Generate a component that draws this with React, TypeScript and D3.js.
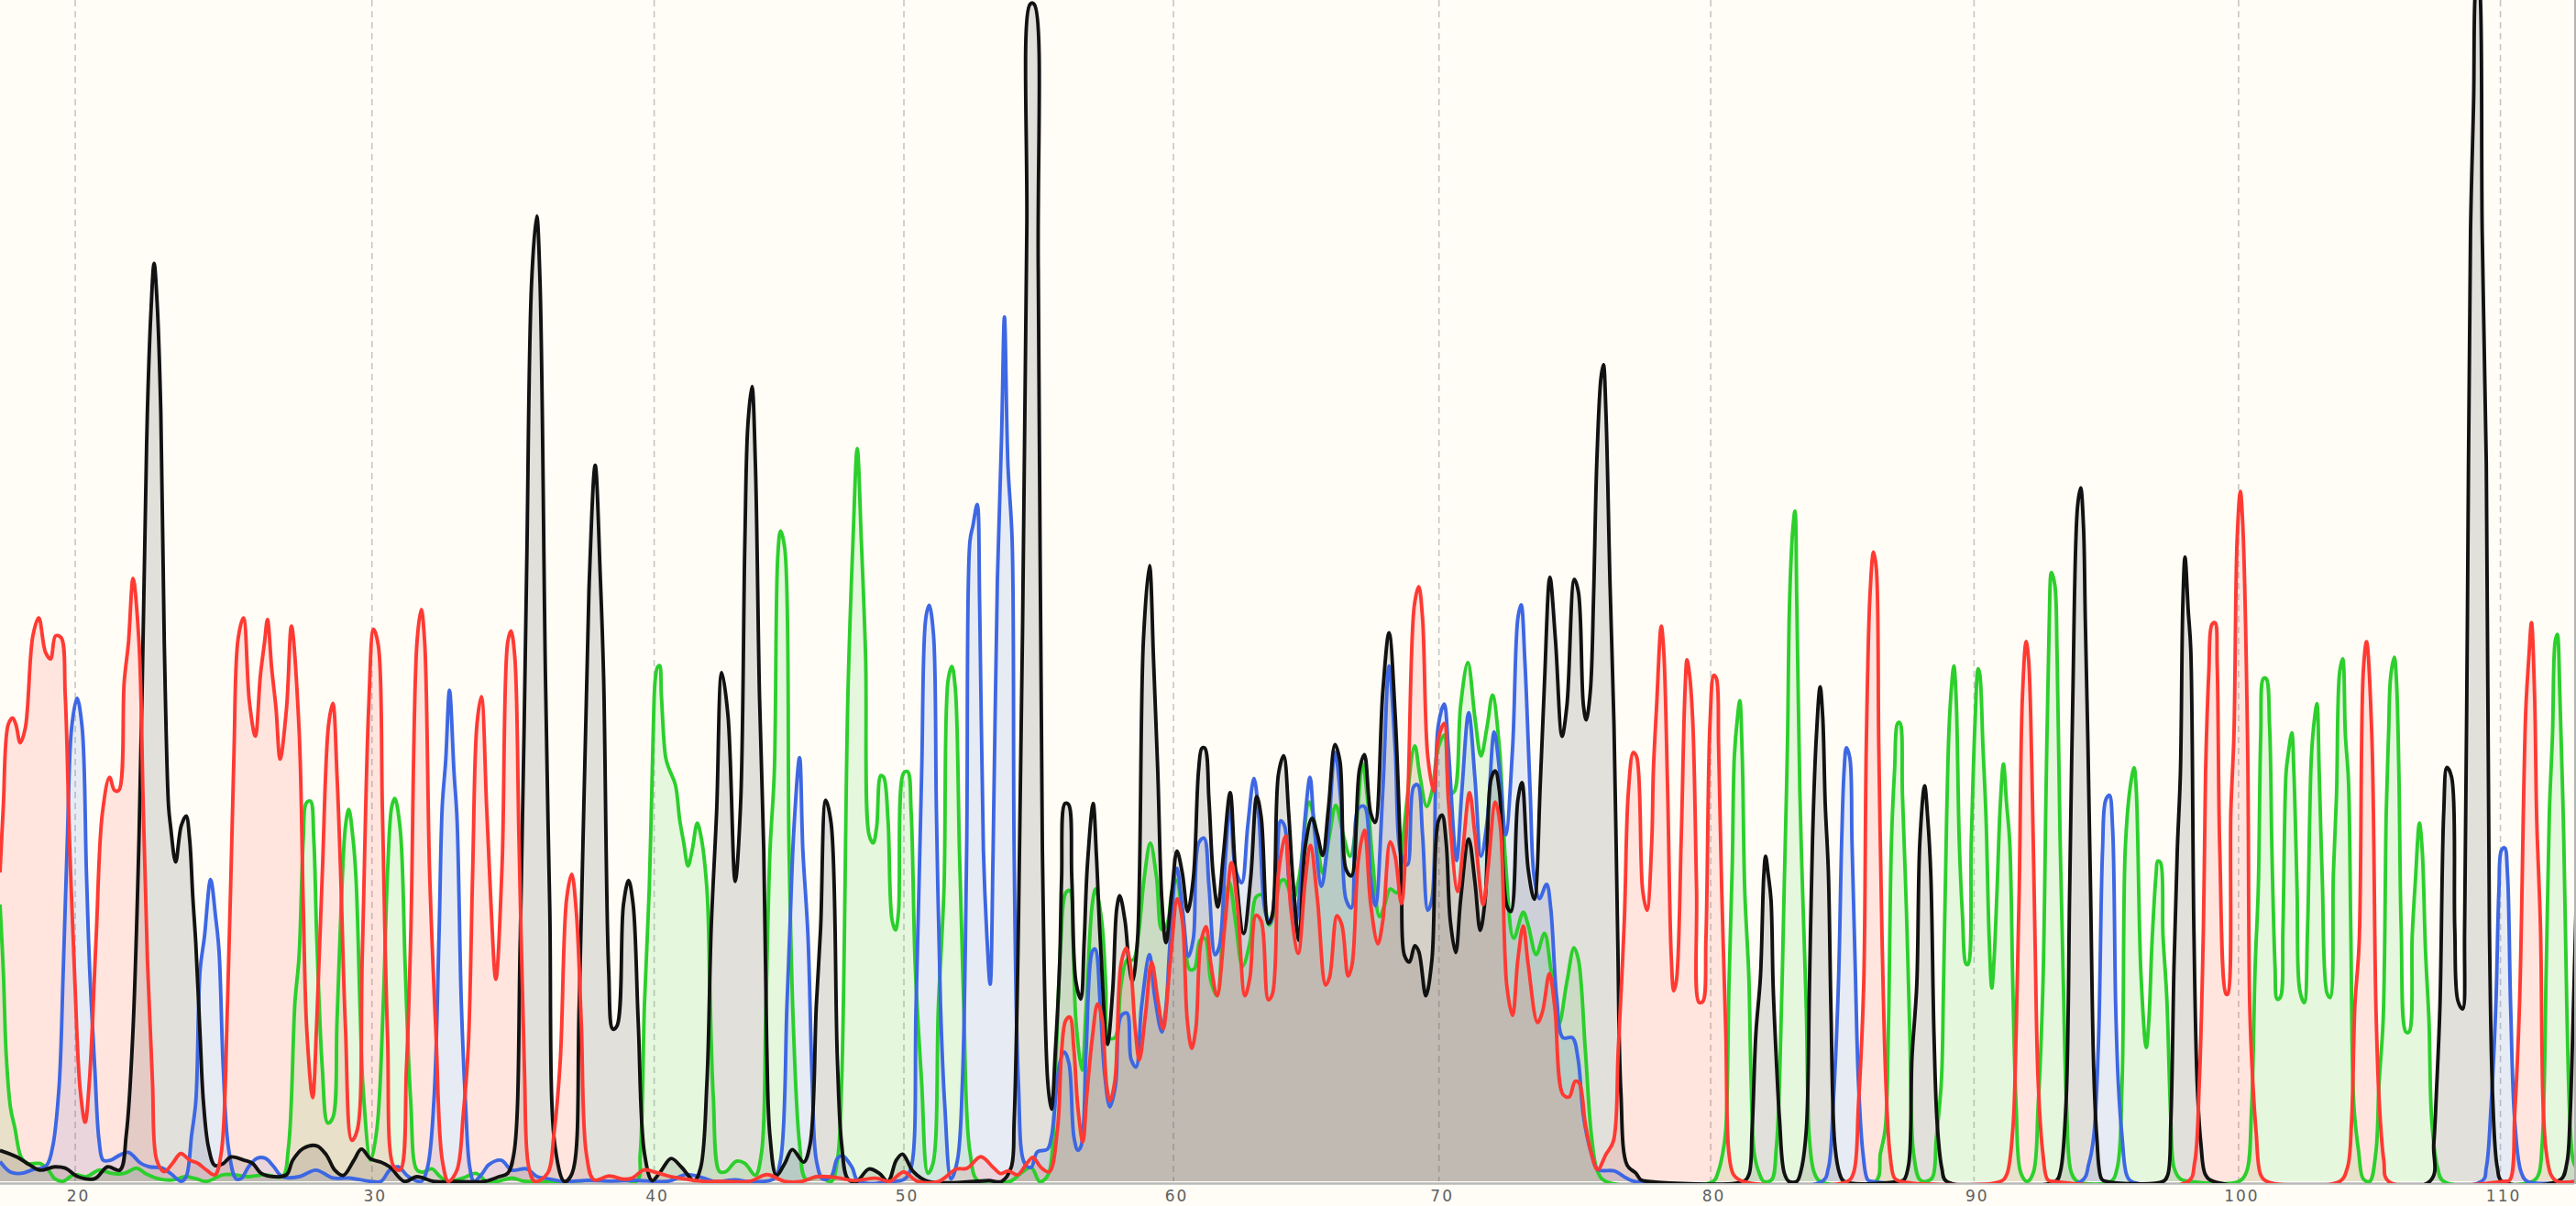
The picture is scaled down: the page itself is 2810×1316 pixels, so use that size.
import React from 'react';
import * as d3 from 'd3';

type Sample = [number, number];

// x axis of the traces is the scan position, y is the signal height
const scanMax = 1568;
const signalMax = 720;

const baseLabels = [20, 30, 40, 50, 60, 70, 80, 90, 100, 110];
const baseScans = [45.8, 226.4, 398.2, 550.2, 714.3, 875.9, 1041.3, 1201.6, 1362.6, 1522];

const greenTrace: Sample[] = [
  [0,169.5],[2,129.6],[3.8,77.7],[6.4,45.8],[9,33.8],[12.8,15.9],[16.7,11.9],[24.4,11.9],[29.5,7.9],[33.3,2.7],[38.5,1.1],[44.9,5.1],[52.6,3.9],[60.3,7.9],[68,5.9],[75.6,5.9],[83.3,9.1],[88.5,5.9],[96.2,2.7],[105.1,1.9],[112.8,3.9],[119.2,2.7],[125.6,1],[135.9,5.1],[142.3,5.1],[151.3,3.9],[161.5,5.1],[171.8,3.9],[175.6,21.9],[179.5,109.6],[182,137.6],[184.6,209.4],[186.4,231.3],[189,232.5],[191,209.4],[192.8,149.6],[196.2,69.8],[199.5,36.6],[202.6,39.8],[205.1,97.7],[207.7,169.5],[210.3,217.4],[212.3,227.4],[214.9,209.4],[216.7,185.5],[219.2,105.7],[221,57.8],[225.6,13.9],[229.5,33.8],[233.3,109.6],[235.9,189.4],[238.5,229.4],[240.3,234.1],[243.6,215.4],[246.7,129.6],[250,49.8],[253.8,7.9],[257.7,6.7],[262.8,8.7],[267.9,3.9],[273,1],[282,3.1],[289.7,5.9],[296.2,1.1],[302.6,1],[311.5,3.1],[319.2,1.1],[330.8,1],[387.2,1],[389.7,17.9],[392.3,109.6],[395.2,179],[397.5,270],[398.8,306],[400.2,314],[401.5,315],
  [402.6,296.5],[405.2,259],[407.3,252],[411.1,242.4],[413.7,221.3],[416.2,207],[418.8,193],[421.3,202.5],[424.4,219],[426.5,212],[430.3,179],[432.1,117.8],[434.2,52],[438,7],[441.8,7],[448.2,13.3],[453.4,12],[459.8,4.8],[463.6,19],[466.2,108],[468.7,202.5],[471.3,249.5],[473.4,381],[475.1,396.8],[477.7,386],[480.3,202.5],[482.8,99],[486.7,23.7],[490.5,2.5],[498.2,4],[505.9,1],[509.7,14],[512.3,61.3],[516.1,296.5],[519.2,390.7],[521.8,447],[524.3,390.7],[526.9,320],[529,211.9],[531.5,207],[533.6,216.6],[536.1,248],[537.9,247],[540.5,221.3],[543,160],[545.1,154],[546.9,164.8],[550,249.5],[552.5,250.4],[554.6,226],[557.1,132],[561,61.3],[564.8,6],[567.9,12],[571.2,108],[574.6,179],[577.1,306],[579.4,314.4],[581.5,301],[584,202.5],[586.6,108],[590.4,19],[595.6,1],[614.8,1],[621.2,5.8],[627.6,9.5],[632.7,1],[635,1.5],[638.7,6.9],
  [642.4,67.4],[645.7,146.4],[648.7,176.6],[651.2,178],[653.2,146.4],[654.9,99],[658.6,68.7],[661.1,107],[664.9,170],[666.9,179],[670.6,159.5],[673.1,120],[674.8,88.5],[678.6,88.5],[682.3,120],[686,135.8],[689.8,135.8],[693,151.6],[696.5,185.8],[700.2,206.9],[704,185.8],[707.2,154.2],[710.5,158],[713.4,177.9],[716,184.5],[719.7,164.8],[724.2,130],[727.1,130.6],[730.4,147.7],[733.4,149],[737.1,122.7],[740.8,114],[744.6,159.5],[748.3,183],[752,159.5],[756.3,131.9],[760.8,146.4],[764.5,174],[768.2,175.3],[772.5,156.9],[775.7,164.8],[779.5,183.7],[781.9,184.5],[787,172.7],[790.7,185.8],[796.9,231.9],[800.6,217.4],[805.1,188.5],[809.3,212],[813.1,230],[817.6,212],[821.8,199],[825.5,217.4],[829.3,255.5],[832.5,233],[835.5,196.3],[839.7,162.1],[843,170],[846.2,179],[850.4,176.6],[854.2,212],[861.2,266.1],[864.1,249],[868.4,229.2],[871.6,238.4],[875.4,264.7],[879.1,272.6],[882.8,237.1],[885.3,238.4],[889.1,291],[893.5,316.8],[897.8,283],[901.5,260],[905.2,278],[908.5,297],[912.7,264.7],[916.5,193.7],[921.4,149],[927.2,164.8],[930.2,156.9],[935.1,139],[940.1,152],[943.9,130.6],[948.8,96.4],[953.8,122.7],[958.1,143.2],[960.8,135.8],[965,80.6],[968.8,28],[972.5,6.9],[977.5,1],
  [1042.8,1],[1045.7,6.4],[1048.6,18],[1050.5,32.6],[1052.4,120],[1054.4,193],[1055.7,260],[1057.6,283.5],[1059,293.7],[1060.5,260],[1062,178.5],[1064.5,126],[1065.9,62],[1067.8,18],[1070.7,6.4],[1073.6,1],[1078.4,2],[1081.2,21],[1083.2,62],[1086,178.5],[1088,266],[1089.3,353.5],[1091.2,397],[1092.6,409],[1093.7,353.5],[1095.6,236.8],[1097.2,178.5],[1099.5,105.5],[1101.4,26.8],[1104.3,6.4],[1108.1,1],[1141.7,1],[1144.6,18],[1147.5,32.6],[1149.4,91],[1151.3,207.6],[1153.2,251],[1155.2,280],[1156.5,280],[1158,236.8],[1160.5,163.9],[1162.5,91],[1164.8,18],[1168.6,2],[1172.4,1],[1176.3,3.5],[1178.6,26.8],[1181.7,62],[1183,120],[1184.9,222],[1186.3,274.7],[1187.8,301],[1189.3,314.7],[1190.7,295],[1192.6,207.6],[1194.5,163.9],[1196.8,133.3],[1198,133.3],[1199.9,207.6],[1202.2,280.6],[1204.1,313],[1205.1,309.7],[1207,266],[1208.9,222],[1210.8,149],[1212.4,118.7],[1213.7,134.7],[1215.6,178.5],[1217.6,231],[1219.5,255],[1221.4,231],[1223.3,207.6],[1225.2,120],[1227.2,47],[1230,6.4],[1233.9,1],[1237.7,6.4],[1240.6,47],[1243.5,120],[1245.4,236.8],[1247.3,339],[1248.7,371.6],[1250.8,363.7],[1252.1,324],[1254,207.6],[1256,120],[1257.9,47],[1260.8,6.4],[1264.6,1],
  [1284.9,1],[1288.8,9.5],[1291.7,61],[1293.6,202.5],[1296.5,240],[1299,252.8],[1300.3,240],[1303.2,127],[1306.4,82.5],[1308,99],[1309.9,146],[1312.4,188],[1313.4,196],[1315.1,195],[1316.6,150.7],[1318.9,113],[1321.4,38],[1323.3,9.5],[1327.2,2.5],[1332.9,1],[1362.7,1],[1367.5,7],[1370.4,42.5],[1372.7,132],[1374.6,179],[1376.1,273],[1377.7,307],[1379.4,307],[1381.5,277.7],[1382.9,202.5],[1384.8,132],[1386.1,112],[1388,113],[1389.6,155],[1391.5,249.5],[1392.8,261],[1395,274],[1396.3,249.5],[1398.2,179],[1399.8,117.8],[1402.6,109.8],[1404.6,155],[1406.9,259],[1408.8,282.4],[1410.3,291.8],[1411.7,249.5],[1413.6,183.6],[1416.5,115.4],[1418.4,113],[1420.3,188],[1422.2,235.4],[1424.1,310.7],[1426,319],[1427.6,273],[1429.5,244.8],[1430.9,155],[1432.8,47],[1435.7,19],[1438.5,2.5],[1442.4,1],[1446.2,19],[1448.1,61],[1450.6,99],[1452.5,226],[1453.9,273],[1455.2,308.3],[1457.4,320],[1458.7,306],[1460.2,249.5],[1461.6,155],[1464.5,92],[1466.4,92],[1468.3,150.7],[1470.2,183.6],[1472.7,219],[1474.4,202.5],[1476.4,141],[1478.5,99],[1480.2,38],[1483.7,9.5],[1487.5,1],[1541.3,1],[1545.1,5],[1547.4,23.7],[1549.9,132],[1551.8,226],[1553.7,273],[1555.3,329.5],[1556.6,334],[1558.2,296.5],[1560.5,212],[1562.4,108],[1564.3,38],[1566.2,14],[1568,9.5],
];

const blueTrace: Sample[] = [
  [0,13.1],[6.4,6.7],[12.8,5.9],[19.2,7.9],[28.2,10.7],[32,21.9],[35.9,57.8],[38.5,129.6],[41,209.4],[43.6,277.2],[46.9,295],[50,277.2],[52.6,189.4],[54.6,129.6],[57.7,69.8],[60.3,25.9],[62.8,13.9],[67.2,13.9],[73,17.1],[78.2,18.7],[85.9,11.9],[91,9.9],[98.7,9.1],[103.8,5.9],[110.3,1.1],[113.3,3.9],[116.7,29.8],[119.2,49.8],[121.8,129.6],[124.4,149.6],[128.2,184.7],[131.3,161.5],[133.3,141.6],[135.9,69.8],[139,21.9],[143.6,2.7],[146.7,2.7],[151.3,9.9],[156.4,15.1],[161.5,15.1],[166.7,9.9],[171.8,3.9],[182,3.9],[192.3,7.9],[202.6,3.1],[212.8,3.1],[225.6,1],[232,1.1],[237.2,7.9],[242.3,9.9],[248.7,3.9],[256.4,1],[260.3,9.9],[264.1,49.8],[267.2,149.6],[269.2,229.4],[271.3,257.3],[273.6,300],[276.4,249.3],[278.2,221.4],[280.8,109.6],[283.3,49.8],[285.9,9.9],[288.5,1.1],[293.6,5.9],[297.4,11.1],[305.1,13.9],[311.5,7.9],[320.5,8.7],[326.9,3.9],[333.3,2.7],[343.6,1],
  [358,1.7],[372,1.2],[385.8,1.7],[407,1.2],[417.8,5.2],[428.5,3],[435,1],[447.7,2],[456,1],[471,2.6],[475.1,14],[479,108],[480.8,155],[483.3,216.6],[486.7,259],[488.7,202.5],[491.8,150.7],[494.4,61.3],[496.9,14],[500.8,2.5],[505.9,4],[509.7,15],[512.8,16.6],[518.7,9.5],[522.5,1],[544.3,1],[550.7,2.5],[554.6,9.5],[557.6,108],[561,249.5],[563.5,343.6],[565.6,351.6],[568.2,334],[570,226],[572.5,108],[575.1,47],[578.9,2.5],[582.8,14],[585.8,61.3],[588.4,202.5],[590.4,390.7],[592.2,400],[594.8,413],[596.3,353],[598.6,202.5],[600.7,150.7],[602.7,121],[604.5,202.5],[607.1,367],[609.7,456.5],[611.4,527],[613.5,437.7],[616.1,390.7],[617.3,202.5],[619.9,61.3],[623.7,12],[627.6,9.5],[631.4,19],[637.5,20.6],
  [640,28],[645,72.7],[647.9,79.8],[650.7,72.7],[653.7,28],[656.1,20],[658.1,22.7],[661.1,80.6],[664.9,141],[666.6,142.4],[669.8,107],[672.3,67.4],[675.6,46.4],[679,59.5],[682.3,101.6],[686,103.5],[688.5,75.3],[691.5,70.6],[694.8,107],[699.7,139],[702.7,114.8],[707.2,91.9],[709.7,107],[712.2,146.4],[716.4,191.6],[719.7,167.4],[723.4,138],[726.4,149],[729.6,206.9],[732.9,210],[735.9,180.6],[739.6,139],[742.1,143.7],[745.8,196.3],[748.8,231.9],[752,191],[755.8,182.7],[759.5,217.4],[763.3,246.3],[766.3,222.6],[770.2,164.8],[773.2,158.2],[777,191],[779.5,220.5],[781.9,217.4],[784.4,185.8],[788.2,155.6],[790.7,172.7],[794.4,222.6],[797.4,246.9],[799.9,217.4],[804.4,180.6],[808.1,206.9],[812.6,262.1],[816.1,233.2],[819.3,172.7],[822.6,167.4],[826.8,227.9],[830.5,229.2],[834.3,185.8],[837.2,168.7],[841.7,238.4],[845.5,314.7],[849.2,264.7],[853,199],[856.7,193.7],[860.4,241],[862.9,242.4],[865.9,212],[869.1,166],[871.6,172.7],[875.4,277.9],[879.1,291.6],[881.6,264.7],[886.6,196.3],[889.8,238.4],[894,286.3],[897.8,246.3],[901.5,199],[905.2,220],[909.5,274.5],[912.7,251.6],[916.5,212],[920.7,264.7],[923.9,343.7],[925.9,352],[928.2,317.4],[931.4,238.4],[933.9,185.8],[937.1,173.2],[941.4,181.9],[943.9,167.4],[947.6,112.2],[951.3,88.5],[957.1,88.5],[960.6,75.3],[963.8,41],[968.8,17.4],[972.5,8.2],[982.5,7.4],[990,3],[995,1],
  [1109.1,1],[1112.9,9],[1115.8,47],[1119,120],[1121,207.6],[1122.5,251],[1123.9,265],[1126,258.7],[1127.3,207.6],[1129.2,134.7],[1131.2,62],[1134,18],[1136.9,2],[1139.8,1],[1266.7,1],[1271.5,12],[1274.4,28],[1277.3,85],[1279.8,202.5],[1281.7,233],[1284,236],[1285.9,216.6],[1287.8,108],[1289.4,61],[1291.7,28],[1294.5,5],[1297.4,1],[1510.5,1],[1513.4,9.5],[1516.3,47],[1519.2,108],[1521.1,179],[1522.6,202.5],[1524.6,204],[1526.3,188],[1528.2,108],[1530.7,38],[1534.5,7],[1538.4,1],[1568,1],
];

const blackTrace: Sample[] = [
  [0,19.9],[10.3,15.9],[18,11.1],[24.4,7.9],[33.3,9.9],[39.7,9.1],[47.4,3.9],[57.7,2.7],[65.4,9.9],[73,7.9],[76.9,29.8],[80.8,89.7],[84.6,209.4],[88.5,408.9],[89.7,468.7],[91.8,528.6],[93.8,559.7],[95.6,536.6],[97.9,468.7],[100,329],[102.6,229.4],[103.8,217.4],[106.9,195.4],[110.3,217.4],[113.3,223.4],[115.4,209.4],[117.4,173.5],[119.2,145.6],[121.8,89.7],[123.8,49.8],[126.9,21.9],[130.8,10.7],[135.9,11.9],[140.5,15.9],[148.7,13.9],[153.8,11.9],[159,5.9],[166.7,3.9],[174.4,5.1],[178.2,13.9],[184.6,21.1],[192.8,22.7],[198.7,17.1],[203.8,7.9],[209,4.7],[215.4,13.9],[220,20.7],[225.6,14.7],[232,12.7],[237.2,9.9],[246.2,1],[253.8,3.9],[264,1],[276.9,1],[294.9,1],[303.8,3.9],[309,5.9],[312.8,17.9],[316.7,149.6],[320.5,369],[323.6,548.6],[326.7,588.5],[328.7,548.6],[332,309],[334.6,169.5],[337.9,21.9],[343.6,1],[348.2,5.9],[352.6,109.6],[358.5,361],[362.3,436.8],[365.4,369],[367.4,309],[370.5,129.6],[373,93.7],[375.6,95.7],[379.5,169.5],[382.6,184.2],[385.4,169.5],[388.5,97.7],[392.3,17.9],[397,1.5],[402.1,7],
  [408.5,15],[415,9.5],[422.6,1.5],[426.5,9.5],[430.3,61.3],[432.9,155],[436.2,226],[439.3,310.7],[443.1,284.8],[447.5,183.6],[450.8,230.7],[453.4,390.7],[455.2,461],[457.7,484.8],[459.8,437.7],[462.3,296.5],[464.9,202.5],[466.7,84.8],[468.7,28.4],[472.6,4.8],[477.7,12],[482.3,20.4],[489.2,12.8],[493.1,23.7],[496.9,108.4],[499.5,155],[502.6,233],[505.9,219],[509.7,75.4],[512.3,23.7],[516.1,2.5],[521.3,1],[528.9,8.6],[535.4,5.8],[540.5,1],[545.6,14],[549.4,17.6],[555.9,7],[564.8,1],[593,1],[602,1.5],[609.7,1],[615.5,9.5],[617.3,37.8],[619.9,155],[622.5,343.6],[625,578.9],[627.1,717.6],[629.4,717.6],[632,555],[634.5,202.5],[637.8,61.3],[640,45],
  [642.4,80.6],[645,133],[646.2,185.8],[648.2,231],[650.4,230.5],[652.4,185.8],[654.9,122.7],[657.9,112],[659.9,146.4],[661.9,193.7],[665.4,231],[667.4,199],[669.8,146.4],[674.1,84.5],[677.3,117.4],[679.8,167.4],[681.6,174.8],[684.8,159.5],[687.3,133],[689.3,122.7],[692.3,146.4],[696,330.5],[699.7,375.8],[702.2,317.4],[704.7,251.6],[707.2,172.7],[709.7,146.4],[713.4,177.9],[716.4,202.1],[719.7,188.5],[722.9,165.3],[726.4,185.8],[729.6,251.6],[731.6,264.7],[733.4,264.7],[735.9,233],[738.4,188.5],[741.3,168],[744.6,199],[748.8,237.6],[752,191],[757,152],[761.3,185.8],[765,235.3],[767.7,222.6],[772,158],[774.5,163.4],[778.2,249],[781.4,260],[784.4,225.3],[786.9,185.8],[790.7,147.7],[794.4,204.2],[798.6,222],[801.9,212],[805.1,199.5],[808.6,228],[812.6,266.9],[815.6,256.9],[819.3,191],[822.6,187],[827.5,251.6],[830.5,260.8],[834.3,225.3],[837,219.5],[841.7,299],[845.5,335],[849.2,285.8],[853,185.8],[854.9,138.5],[857.9,134.5],[861.2,144.5],[863.6,141],[867.9,114],[871.6,135.8],[875.4,220],[877.8,224],[880.3,207],[882.8,159.5],[886.1,140.3],[889.1,172.7],[894,209.5],[897.8,183],[901,153.7],[904,172.7],[907.7,246.3],[910.2,250.8],[912.7,238.4],[917.2,168.7],[919.7,165.3],[923.9,233],[926.4,243.7],[930.2,191],[933.9,172.7],[937.6,243.7],[940.1,304],[943.4,368.7],[946.8,330.5],[950.8,271.9],[953.8,291],[958.3,367.4],[960.8,359.5],[963.8,291],[965.5,281.9],[968,299],[970,356.8],[972,440],[974.5,490],[976,498],[977.5,470],[980,365],[982.4,280],[984.7,149],[986.6,56],[990.4,11],[995.8,6],[998.7,2],[1003.5,1],
  [1061,1],[1064.5,5],[1066.5,32.6],[1068.8,91],[1071.6,126],[1073.6,187],[1074.7,199],[1076.4,187],[1078,172.6],[1079.3,120],[1081.2,76],[1083.2,38.5],[1086,6.4],[1088.9,1],[1093.7,1],[1096.6,9],[1099.5,32.6],[1101.4,120],[1103.3,210.6],[1105.6,271.8],[1107.9,302],[1109.5,283.5],[1111,231],[1112.9,190],[1114.5,105.5],[1116.8,24],[1119.6,6.4],[1122.5,1],[1156.1,1],[1159,2],[1161.9,12],[1163.8,76],[1166.7,120],[1168.6,207.6],[1171.5,241.8],[1173.4,222],[1175.3,187],[1177.2,91],[1179.2,35.5],[1182,9],[1184.9,1],[1251.2,1],[1254,6.4],[1257.5,47],[1259.8,178.5],[1261.7,295],[1264.6,411.8],[1266.5,423],[1268.2,400],[1269.3,343.6],[1270.9,268],[1272.5,179],[1274.4,70.7],[1276.3,28],[1279.2,2.5],[1282,1],[1316.6,1],[1319.5,5],[1321.4,38],[1323.3,132],[1325.3,202.5],[1327.2,249.5],[1328.7,353],[1330,381],[1332,348],[1333.5,325],[1335.4,155],[1337.4,61],[1339.7,23.7],[1342.5,5],[1347.3,1],[1478.9,1],[1481.4,23.7],[1483.3,61],[1485.2,108],[1487.5,226],[1489.4,253],[1492.3,247],[1494.2,155],[1496.1,111],[1499,106],[1500.2,155],[1501.9,343.6],[1503.8,579],[1505.7,660],[1506.7,725],[1508.2,735],[1509.6,725],[1510.9,579],[1513.4,438],[1515.3,155],[1517.3,52],[1520.1,9.5],[1523,1],[1558.5,2],[1562.4,12],[1564.3,38],[1566.2,99],[1568,165],
];

const redTrace: Sample[] = [
  [0,189],[2,229],[5,279],[7.7,283],[9.7,279],[12.3,268],[15.4,277],[20,333],[23.6,344],[27.7,323],[30.8,319],[33.8,333],[37.2,332],[39.7,297],[42.3,209],[45.6,122],[48.7,58],[51.8,37],[54.4,62],[58.5,149],[62.3,225],[66.7,247],[69.7,239],[72.3,239],[75.6,305],[78.2,329],[81,368],[84.6,329],[87.2,229],[89.7,137],[92.8,62],[95.4,14],[100,7],[105,12],[110,18],[115.4,14],[120.5,12],[125.6,8],[130.8,5],[134.6,18],[138.5,110],[142.3,257],[144.9,331],[148.2,344],[151.8,293],[155.4,272],[158.5,309],[161,329],[162.8,343],[165.4,313],[168,289],[170.5,258],[174.4,289],[177.4,339],[182,277],[184.6,169],[186.7,94],[190.3,52],[192.8,98],[196.2,189],[200,279],[202.6,292],[205.1,249],[207.2,193],[210.3,94],[214.1,26],[217.4,32],[220.5,138],[224.4,289],[227.4,337],[230.3,327],[232.8,225],[235.9,90],[239.7,10],[243.6,8],[247.4,70],[250,150],[253.8,329],[256.4,349],[258.5,329],[261.5,189],[265.4,90],[269.2,14],[273,1],[278.2,8],[282,42],[285,82],[287.7,189],[290.3,279],[293,296],[296.2,229],[298.7,173],[301.8,124],[305.6,193],[309,329],[311,336],[313.3,321],[315.9,209],[319.2,70],[321.8,10],[325.6,1],[333.3,6],[337.2,30],[341,74],[344.9,173],[348,188],[350.8,165],[353.8,98],[356.9,18],[361.5,2],
  [370.8,4.3],[379.4,2.4],[384.7,3],[392,8],[398.6,6.7],[407,4.3],[417.8,2.4],[428.5,1],[441,1],[456,1],[467,5.2],[477.6,1],[488,1],[497,3.9],[509.6,3.3],[520,1.5],[533,3],[541.7,1.1],[550,6.7],[558.7,1],[571.6,1.1],[582,8.5],[588.6,9],[597,16],[604.6,9.5],[609,5.8],[613.8,7.4],[619.3,5],[625,12],[628.7,15.6],[633.7,9.5],[638.7,6.9],
  [643.7,33],[646.2,80.6],[648.7,99],[651.2,101],[653.7,81],[656.1,46],[659.1,25],[661.6,54],[664.9,88.5],[668.1,109],[670.6,101.6],[673.6,59.5],[675.6,50],[678.6,62],[682.3,133],[685.5,143],[688,133],[691,94],[693.5,75],[697.2,102],[701,134.5],[704.7,112],[708,94],[712.2,133],[716.7,173],[719.7,159.5],[722.7,99],[725.4,82],[727.9,94],[730.9,146],[734.1,156],[737.1,133],[740.8,114],[745.8,159.5],[749.6,195],[753.3,167.4],[757.8,114],[760.8,125],[764.5,163],[767.7,159.5],[772,111.6],[774.5,115],[778.2,188.5],[782.4,211.3],[785.7,167.4],[790.2,139.8],[794.4,183],[797.6,205.6],[801.9,172.7],[806.9,120.6],[809.3,125.3],[813.8,162.7],[816.8,157],[820.6,126],[823,133],[826.8,196.3],[830.5,214.8],[834.3,170],[838.7,145.6],[841.7,159.5],[846.2,207.7],[849.2,199],[853,170],[856.7,228],[860.9,351.6],[863.6,363],[865.9,343.7],[869.1,259.5],[872.9,238.4],[875.4,270],[879.1,279.7],[881.6,233],[887.3,177.4],[890.3,201.6],[894.5,237.6],[897.8,212],[902.8,169.5],[905.7,191],[910.2,231.9],[913.2,217.4],[917.2,120],[920.7,102],[923.9,136],[927.2,156.4],[930.2,133],[935.9,97.7],[938.9,104.3],[943.1,127.4],[946.4,107],[951.3,54],[955.1,52.4],[958.8,62],[961.3,60.8],[965,35.9],[968.8,17.4],[972.5,8.2],[977.5,17.4],[982,25.3],[985,80.6],[988.7,159.5],[991.2,238.4],[994.2,262],[996.2,259.5],[999.9,178],[1002.5,166],
  [1005.4,207.6],[1006.4,251],[1008.3,289],[1011.2,339],[1012.7,324],[1015,242.6],[1017.3,137.6],[1018.8,117],[1020.4,123],[1023.3,207.6],[1025.6,298],[1026.9,318.5],[1028.4,309.7],[1030.4,280.6],[1032.7,178.5],[1034.2,110],[1036.5,110.5],[1038.4,149],[1040.9,280.6],[1043.2,309],[1044.8,307],[1046.1,266],[1048,178.5],[1050.5,91],[1052.4,18],[1055.3,5],[1061,1],[1124.4,1],[1128.3,6.4],[1131.2,47],[1134.4,120],[1136,266],[1138.3,359],[1140.4,384],[1142.1,374],[1143.6,266],[1145.6,149],[1147.9,62],[1150.4,18],[1153.2,3],[1157,1],[1217.6,1],[1221.4,5],[1225.2,33],[1227.2,91],[1229.1,178.5],[1231,295],[1233.3,329.6],[1234.8,318.5],[1236.8,251],[1238.7,149],[1240.6,62],[1243.5,18],[1246.4,2],[1250.2,1],
  [1332,1],[1335.8,12],[1338.7,61],[1341.2,155],[1342.5,249],[1344.5,311],[1346.4,340],[1348.3,341],[1349.6,315],[1351.2,202],[1355,115],[1356,115],[1357.9,226],[1359.8,273],[1361.7,391],[1363.7,421],[1365.2,400],[1368.1,268],[1369.4,108],[1371.3,61],[1373.3,31],[1376.1,5],[1380,1],[1424.1,1],[1428.9,9.5],[1431.4,38],[1433.4,108],[1436,146],[1438.5,311],[1440.5,329.5],[1443.7,273],[1446.2,108],[1448.1,52],[1451,14],[1453.9,1],[1524,1],[1527.8,2],[1530.7,42],[1533.6,108],[1537.4,287],[1539.3,320],[1540.9,341],[1542.8,296.5],[1544.1,221],[1546.4,155],[1548,47],[1549.9,19],[1552.8,5],[1556.6,1],[1568,1],
];

// paint order: last one ends up on top
const traces = [
  { name: 'G', color: '#2ccf2c', values: greenTrace },
  { name: 'C', color: '#3d67e3', values: blueTrace },
  { name: 'A', color: '#121212', values: blackTrace },
  { name: 'T', color: '#ff3a33', values: redTrace },
];

export default function App() {
  const width = 2810;
  const height = 1316;
  const plotBottom = 1289;
  const plotRight = 2808;
  const curve = d3.curveCatmullRom.alpha(0.5);

  const x = d3.scaleLinear().domain([0, scanMax]).range([0, width]);
  const y = d3.scaleLinear().domain([0, signalMax]).range([1291, 0]);

  const line = d3
    .line<Sample>()
    .x((d) => x(d[0]))
    .y((d) => y(d[1]))
    .curve(curve);

  const area = d3
    .area<Sample>()
    .x((d) => x(d[0]))
    .y0(plotBottom)
    .y1((d) => y(d[1]))
    .curve(curve);

  return (
    <svg
      width={width}
      height={height}
      viewBox={`0 0 ${width} ${height}`}
      style={{ position: 'fixed', left: 0, top: 0, display: 'block', background: '#fffdf6' }}
    >
      <defs>
        <clipPath id="fill-clip">
          <rect x={0} y={0} width={plotRight} height={plotBottom} />
        </clipPath>
        <clipPath id="line-clip">
          <rect x={0} y={0} width={plotRight} height={plotBottom + 2} />
        </clipPath>
      </defs>

      {baseScans.map((s, i) => (
        <line
          key={baseLabels[i]}
          x1={x(s)}
          x2={x(s)}
          y1={0}
          y2={plotBottom}
          stroke="#c6c6c6"
          strokeWidth={1.6}
          strokeDasharray="7 5"
        />
      ))}

      <g clipPath="url(#fill-clip)">
        {traces.map((t) => (
          <path key={t.name + 'fill'} d={area(t.values) ?? ''} fill={t.color} fillOpacity={0.12} />
        ))}
      </g>

      <line x1={0} x2={plotRight} y1={1291.5} y2={1291.5} stroke="#b9b9b9" strokeWidth={2.5} />
      <rect x={plotRight} y={0} width={width - plotRight} height={1292} fill="#b4b4b4" />

      <g clipPath="url(#line-clip)">
        {traces.map((t) => (
          <path
            key={t.name}
            d={line(t.values) ?? ''}
            fill="none"
            stroke={t.color}
            strokeWidth={3.9}
            strokeLinejoin="round"
          />
        ))}
      </g>

      {baseScans.map((s, i) => (
        <text
          key={'label' + baseLabels[i]}
          x={x(s) + 3.5}
          y={1311}
          textAnchor="middle"
          fontFamily="'DejaVu Sans', sans-serif"
          fontSize={17}
          letterSpacing={2}
          fill="#606060"
        >
          {baseLabels[i]}
        </text>
      ))}
    </svg>
  );
}
